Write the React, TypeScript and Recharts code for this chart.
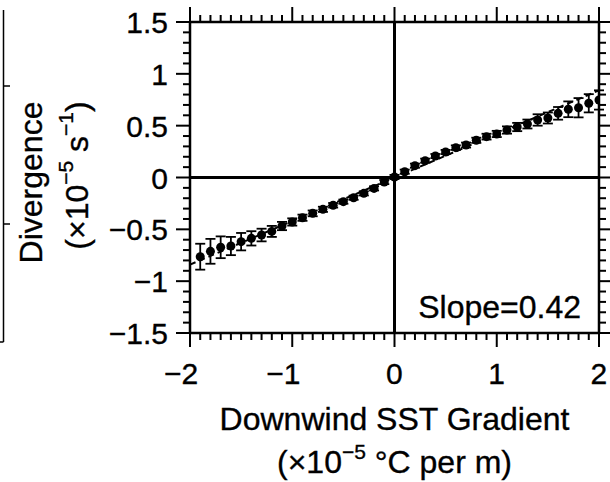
import React from 'react';
import { ScatterChart, Scatter, XAxis, YAxis, ErrorBar, ReferenceLine, Label } from 'recharts';

// binned downwind SST gradient (x1e-5 degC per m)
const gradX = [
  -1.9, -1.8, -1.7, -1.6, -1.5, -1.4, -1.3, -1.2, -1.1, -1.0,
  -0.9, -0.8, -0.7, -0.6, -0.5, -0.4, -0.3, -0.2, -0.1, 0.0,
  0.1, 0.2, 0.3, 0.4, 0.5, 0.6, 0.7, 0.8, 0.9, 1.0,
  1.1, 1.2, 1.3, 1.4, 1.5, 1.6, 1.7, 1.8, 1.9, 2.0,
];
// mean divergence per bin (x1e-5 s^-1)
const divY = [
  -0.764, -0.712, -0.673, -0.661, -0.619, -0.587, -0.555, -0.52, -0.468, -0.429,
  -0.388, -0.346, -0.307, -0.268, -0.233, -0.195, -0.153, -0.105, -0.044, 0.005,
  0.056, 0.114, 0.162, 0.207, 0.246, 0.288, 0.313, 0.359, 0.394, 0.42,
  0.458, 0.487, 0.516, 0.555, 0.574, 0.619, 0.658, 0.673, 0.716, 0.748,
];
// +/- error bar half-length
const divErr = [
  0.125, 0.12, 0.105, 0.088, 0.084, 0.069, 0.061, 0.053, 0.04, 0.035,
  0.03, 0.028, 0.025, 0.022, 0.02, 0.02, 0.02, 0.02, 0.02, 0.02,
  0.02, 0.02, 0.02, 0.02, 0.02, 0.022, 0.024, 0.025, 0.028, 0.03,
  0.035, 0.04, 0.043, 0.055, 0.053, 0.061, 0.076, 0.093, 0.088, 0.093,
];
const fitSlope = 0.42;

const xDomain = [-2, 2];
const yDomain = [-1.5, 1.5];
const xTicks = Array.from({ length: 41 }, (_, i) => Math.round((-2 + i * 0.1) * 10) / 10);
const yTicks = Array.from({ length: 31 }, (_, i) => Math.round((-1.5 + i * 0.1) * 10) / 10);

const data = gradX.map((x, i) => ({ x, y: divY[i], err: divErr[i] }));

const FONT = '"Liberation Sans", Arial, Helvetica, sans-serif';
const INK = '#000';
// a hair of stroke to match the heavier print-style glyphs
const TEXT_STROKE = { stroke: INK, strokeWidth: 0.35 };

const isMajorX = (v: number) => Math.abs(v - Math.round(v)) < 1e-6;
const isMajorY = (v: number) => Math.abs(v * 2 - Math.round(v * 2)) < 1e-6;
const fmt = (v: number) => (v < 0 ? '\u2212' : '') + String(Math.abs(v));

const BottomTick = (props: any) => {
  const { x, y, payload } = props;
  const major = isMajorX(payload.value);
  return (
    <g>
      <line x1={x} x2={x} y1={y} y2={y + (major ? 14 : 7)} stroke={INK} strokeWidth={2} />
      {major && (
        <text x={x + 8.3} y={y + 51} textAnchor="end" fontSize={30} fontFamily={FONT} fill={INK} {...TEXT_STROKE}>
          {fmt(payload.value)}
        </text>
      )}
    </g>
  );
};

const TopTick = (props: any) => {
  const { x, y, payload } = props;
  const major = isMajorX(payload.value);
  return <line x1={x} x2={x} y1={y} y2={y - (major ? 15 : 7)} stroke={INK} strokeWidth={2} />;
};

const LeftTick = (props: any) => {
  const { x, y, payload } = props;
  const major = isMajorY(payload.value);
  return (
    <g>
      <line x1={x} x2={x - (major ? 14 : 7)} y1={y} y2={y} stroke={INK} strokeWidth={2} />
      {major && (
        <text x={x - 22} y={y + 11} textAnchor="end" fontSize={30} fontFamily={FONT} fill={INK} {...TEXT_STROKE}>
          {fmt(payload.value)}
        </text>
      )}
    </g>
  );
};

const RightTick = (props: any) => {
  const { x, y, payload } = props;
  const major = isMajorY(payload.value);
  return <line x1={x} x2={x + (major ? 14 : 7)} y1={y} y2={y} stroke={INK} strokeWidth={2} />;
};

const XTitle = (props: any) => {
  const { x, y, width } = props.viewBox;
  const cx = x + width / 2;
  return (
    <g fontFamily={FONT} fill={INK} {...TEXT_STROKE}>
      <text x={cx} y={y + 97} textAnchor="middle" fontSize={32}>
        Downwind SST Gradient
      </text>
      <text x={cx} y={y + 140} textAnchor="middle" fontSize={32}>
        (×10
        <tspan dy={-14} fontSize={21}>{'\u22125'}</tspan>
        <tspan dy={14}> °C per m)</tspan>
      </text>
    </g>
  );
};

const YTitle = (props: any) => {
  const { y, height } = props.viewBox;
  const cy = y + height / 2;
  return (
    <g fontFamily={FONT} fill={INK} {...TEXT_STROKE}>
      <text transform={`translate(42,${cy + 5}) rotate(-90)`} textAnchor="middle" fontSize={32}>
        Divergence
      </text>
      <text transform={`translate(88,${cy - 2}) rotate(-90)`} textAnchor="middle" fontSize={32}>
        (×10
        <tspan dy={-15} fontSize={21}>{'\u22125'}</tspan>
        <tspan dy={15}> s</tspan>
        <tspan dy={-15} fontSize={21}>{'\u22121'}</tspan>
        <tspan dy={15}>)</tspan>
      </text>
    </g>
  );
};

const Dot = (props: any) => <circle cx={props.cx} cy={props.cy} r={4.5} fill={INK} />;
const NoDot = () => <g />;

export default function App() {
  return (
    <div style={{ position: 'absolute', left: 0, top: 0, width: 610, height: 482, background: '#fff' }}>
      <ScatterChart width={610} height={482} margin={{ top: 0, right: 0, bottom: 0, left: 0 }}>
        <XAxis
          xAxisId="bottom"
          type="number"
          dataKey="x"
          domain={xDomain}
          ticks={xTicks}
          interval={0}
          allowDataOverflow
          height={149}
          tickSize={0}
          tickMargin={0}
          tick={BottomTick}
          axisLine={{ stroke: INK, strokeWidth: 2.5 }}
        >
          <Label content={XTitle} />
        </XAxis>
        <XAxis
          xAxisId="top"
          orientation="top"
          type="number"
          dataKey="x"
          domain={xDomain}
          ticks={xTicks}
          interval={0}
          allowDataOverflow
          height={22}
          tickSize={0}
          tickMargin={0}
          tick={TopTick}
          axisLine={{ stroke: INK, strokeWidth: 2.5 }}
        />
        <YAxis
          yAxisId="left"
          type="number"
          dataKey="y"
          domain={yDomain}
          ticks={yTicks}
          interval={0}
          allowDataOverflow
          width={190}
          tickSize={0}
          tickMargin={0}
          tick={LeftTick}
          axisLine={{ stroke: INK, strokeWidth: 2.5 }}
        >
          <Label content={YTitle} />
        </YAxis>
        <YAxis
          yAxisId="right"
          orientation="right"
          type="number"
          dataKey="y"
          domain={yDomain}
          ticks={yTicks}
          interval={0}
          allowDataOverflow
          width={11}
          tickSize={0}
          tickMargin={0}
          tick={RightTick}
          axisLine={{ stroke: INK, strokeWidth: 2.5 }}
        />
        <ReferenceLine xAxisId="bottom" yAxisId="left" x={0} stroke={INK} strokeWidth={3} />
        <ReferenceLine xAxisId="bottom" yAxisId="left" y={0} stroke={INK} strokeWidth={3} />
        <ReferenceLine
          xAxisId="bottom"
          yAxisId="left"
          segment={[
            { x: xDomain[0], y: xDomain[0] * fitSlope },
            { x: xDomain[1], y: xDomain[1] * fitSlope },
          ]}
          stroke={INK}
          strokeWidth={2}
          strokeDasharray="6 4"
        />
        {/* invisible copy so the mirrored top/right axes get a domain */}
        <Scatter xAxisId="top" yAxisId="right" data={data} shape={NoDot} isAnimationActive={false} />
        <Scatter xAxisId="bottom" yAxisId="left" data={data} shape={Dot} isAnimationActive={false}>
          <ErrorBar dataKey="err" direction="y" width={5} stroke={INK} strokeWidth={1.8} isAnimationActive={false} />
        </Scatter>
      </ScatterChart>
      <svg
        width={610}
        height={482}
        style={{ position: 'absolute', left: 0, top: 0, pointerEvents: 'none' }}
      >
        {/* edge of the neighbouring panel */}
        <line x1={3.5} x2={3.5} y1={10} y2={342} stroke={INK} strokeWidth={1.5} />
        <line x1={3.5} x2={10} y1={86} y2={86} stroke={INK} strokeWidth={1.5} />
        <line x1={3.5} x2={10} y1={224} y2={224} stroke={INK} strokeWidth={1.5} />
        <line x1={0} x2={3.5} y1={342} y2={342} stroke={INK} strokeWidth={1.5} />
        <text x={581} y={318} textAnchor="end" fontSize={32} fontFamily={FONT} fill={INK} {...TEXT_STROKE}>
          {`Slope=${fitSlope.toFixed(2)}`}
        </text>
      </svg>
    </div>
  );
}
